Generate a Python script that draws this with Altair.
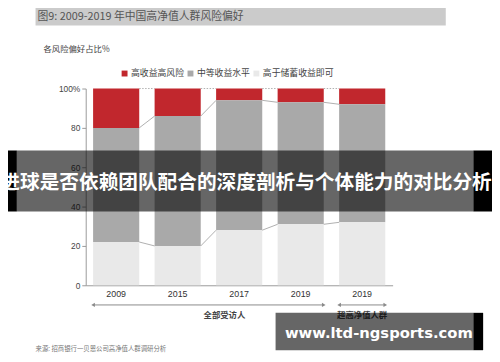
import altair as alt
import pandas as pd

keys = ["2009", "2015", "2017", "2019a", "2019b"]
series = ["高收益高风险", "中等收益水平", "高于储蓄收益即可"]
high_risk = [20, 14, 6, 7, 8]
medium = [58, 66, 66, 62, 60]
savings = [22, 20, 28, 31, 32]
colors = ["#c1272d", "#a9a9a9", "#e9e9e9"]
group_labels = ["全部受访人", "超高净值人群"]
group_start = ["2009", "2019b"]
group_end = ["2019a", "2019b"]
title_text = "图9: 2009-2019 年中国高净值人群风险偏好"
ylabel_text = "各风险偏好占比%"
source_text = "来源: 招商银行一贝恩公司高净值人群调研分析"
banner_text = "进球是否依赖团队配合的深度剖析与个体能力的对比分析"
watermark_text = "www.ltd-ngsports.com"

CJK = "Noto Sans CJK SC"

rows = []
for i, k in enumerate(keys):
    for s, vals, rank in zip(series, [high_risk, medium, savings], [2, 1, 0]):
        rows.append({"key": k, "series": s, "value": vals[i], "rank": rank})
df = pd.DataFrame(rows)

b_light = savings
b_mid = [a + b for a, b in zip(savings, medium)]
b_top = [a + b + c for a, b, c in zip(savings, medium, high_risk)]
conn = []
for i in range(len(keys) - 1):
    for kind, arr in [("s", b_light), ("m", b_mid), ("t", b_top)]:
        conn.append({"k1": keys[i], "k2": keys[i + 1], "v1": arr[i], "v2": arr[i + 1], "top": kind == "t"})
conn = pd.DataFrame(conn)

groups = pd.DataFrame({"label": group_labels, "start": group_start, "end": group_end})

xscale = alt.Scale(domain=keys, paddingInner=0.25, paddingOuter=0.12)
yscale = alt.Scale(domain=[0, 100])
xaxis = alt.Axis(title=None, labelExpr="substring(datum.label, 0, 4)", labelAngle=0, ticks=False,
                 domainColor="#999999", labelFontSize=9, labelColor="#333333", labelPadding=4,
                 labelFont="Liberation Sans")
yaxis = alt.Axis(title=None, values=[0, 20, 40, 60, 80, 100],
                 labelExpr="datum.value == 100 ? '100%' : datum.label",
                 tickSize=4, tickColor="#999999", domainColor="#999999", labelFontSize=8.5,
                 labelColor="#444444", labelPadding=2, grid=False, labelFont="Liberation Sans")

bars = alt.Chart(df).mark_bar().encode(
    x=alt.X("key:N", scale=xscale, axis=xaxis),
    y=alt.Y("value:Q", stack="zero", scale=yscale, axis=yaxis),
    color=alt.Color("series:N", scale=alt.Scale(domain=series, range=colors),
                    legend=alt.Legend(title=None, orient="none", legendX=35, legendY=-20,
                                      direction="horizontal", symbolType="square", symbolSize=36,
                                      symbolStrokeWidth=0, labelFontSize=9, labelFont=CJK,
                                      labelColor="#444444", columnPadding=1, labelOffset=2)),
    order=alt.Order("rank:Q", sort="ascending"),
)

def connectors(is_top, **kw):
    return alt.Chart(conn[conn["top"] == is_top]).mark_rule(**kw).encode(
        x=alt.X("k1:N", bandPosition=1, scale=xscale, axis=xaxis),
        x2=alt.X2("k2", bandPosition=0),
        y=alt.Y("v1:Q", scale=yscale, axis=yaxis),
        y2="v2",
    )

conn_solid = connectors(False, color="#9a9a9a", strokeWidth=0.8)
conn_top = connectors(True, color="#9a9a9a", strokeWidth=0.8, strokeDash=[1.5, 1.5])

arrow_line = alt.Chart(groups).mark_rule(color="#8a8a8a", strokeWidth=1).encode(
    x=alt.X("start:N", bandPosition=0, scale=xscale, axis=xaxis),
    x2=alt.X2("end", bandPosition=1),
    y=alt.value(220),
)
arrow_left = alt.Chart(groups).mark_point(filled=True, size=18, color="#8a8a8a", opacity=1,
                                          shape="triangle-left").encode(
    x=alt.X("start:N", bandPosition=0, scale=xscale, axis=xaxis),
    y=alt.value(220),
)
arrow_right = alt.Chart(groups).mark_point(filled=True, size=18, color="#8a8a8a", opacity=1,
                                           shape="triangle-right").encode(
    x=alt.X("end:N", bandPosition=1, scale=xscale, axis=xaxis),
    y=alt.value(220),
)

one = pd.DataFrame({"a": [0]})

def rect(x, x2, y, y2, **kw):
    return alt.Chart(one).mark_rect(**kw).encode(
        x=alt.value(x), x2=alt.value(x2), y=alt.value(y), y2=alt.value(y2))

def label(text, x, y, **kw):
    return alt.Chart(pd.DataFrame({"t": [text]})).mark_text(**kw).encode(
        x=alt.value(x), y=alt.value(y), text="t:N")

title_band = rect(-51, 366, -83, -64, color="#cbcbcb")
title = label(title_text, -49, -73, align="left", baseline="middle", fontSize=11,
              color="#555555", font=CJK)
ylab = label(ylabel_text, -43, -40, align="left", baseline="middle", fontSize=8.5,
             color="#444444", font=CJK)
g1 = label(group_labels[0], 141, 230, align="center", baseline="middle", fontSize=8.5,
           color="#444444", font=CJK, fontWeight="bold")
g2 = label(group_labels[1], 281, 230, align="center", baseline="middle", fontSize=8.5,
           color="#444444", font=CJK, fontWeight="bold")
src = label(source_text, -51, 265, align="left", baseline="middle", fontSize=6.5,
            color="#777777", font=CJK)

banner_l = rect(-95, -70, 63, 125, color="#000000")
banner_m = rect(-70, 394, 63, 125, color="#000000", opacity=0.6)
banner_r = rect(394, 413, 63, 125, color="#000000")
banner_t = label(banner_text, 163, 96, align="center", baseline="middle", fontSize=20,
                 color="#ffffff", font=CJK, fontWeight="bold")

wm_m = rect(193, 394, 228, 266, color="#000000", opacity=0.6)
wm_r = rect(394, 404, 228, 266, color="#000000")
wm_t = label(watermark_text, 298, 249, align="center", baseline="middle", fontSize=15,
             color="#ffffff", font="DejaVu Sans", fontWeight="bold")

chart = alt.layer(
    title_band, title, ylab,
    bars, conn_solid, conn_top,
    arrow_line, arrow_left, arrow_right,
    g1, g2, src,
    banner_l, banner_m, banner_r, banner_t,
    wm_m, wm_r, wm_t,
).properties(
    width=312, height=200,
    autosize=alt.AutoSizeParams(type="none"),
    padding={"left": 79, "top": 79, "right": 101, "bottom": 67},
    background="#ffffff",
).configure_view(stroke=None)

chart.save("out.html", embed_options={"renderer": "svg", "actions": False})
